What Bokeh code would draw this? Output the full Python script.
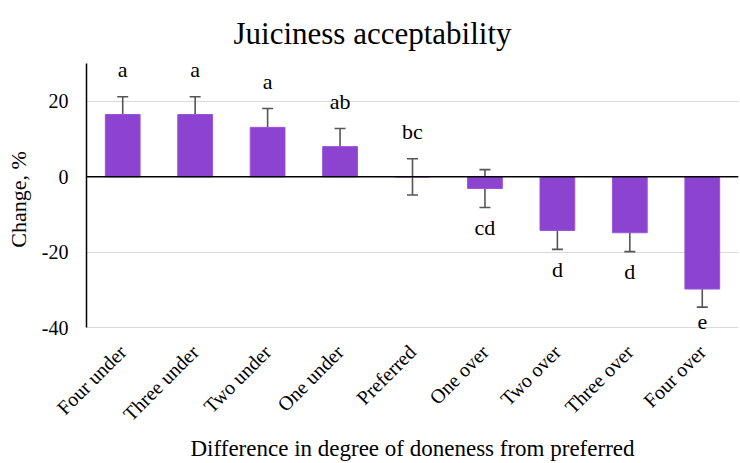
import math
from bokeh.plotting import figure
from bokeh.models import (ColumnDataSource, Whisker, Span, FixedTicker, Range1d, FactorRange,
                          TeeHead, LabelSet, PrintfTickFormatter)
from bokeh.embed import file_html
from bokeh.resources import INLINE

categories = ["Four under", "Three under", "Two under", "One under", "Preferred",
              "One over", "Two over", "Three over", "Four over"]
change = [16.5, 16.5, 13.1, 8.0, 0.0, -3.1, -14.2, -14.8, -29.7]
error = [4.7, 4.7, 5.0, 4.8, 4.8, 5.0, 5.0, 5.0, 4.8]
letters = ["a", "a", "a", "ab", "bc", "cd", "d", "d", "e"]
y_ticks = [-40, -20, 0, 20]

FONT = "Liberation Serif"

upper = [c + e for c, e in zip(change, error)]
lower = [c - e for c, e in zip(change, error)]

src = ColumnDataSource(dict(cat=categories, change=change, upper=upper, lower=lower))

pos_idx = [i for i, c in enumerate(change) if c >= 0]
neg_idx = [i for i, c in enumerate(change) if c < 0]
pos_src = ColumnDataSource(dict(cat=[categories[i] for i in pos_idx],
                                y=[upper[i] + 5.2 for i in pos_idx],
                                t=[letters[i] for i in pos_idx]))
neg_src = ColumnDataSource(dict(cat=[categories[i] for i in neg_idx],
                                y=[lower[i] - 2.0 for i in neg_idx],
                                t=[letters[i] for i in neg_idx]))

p = figure(width=740, height=463, x_range=FactorRange(*categories, range_padding=0),
           y_range=Range1d(-42, 30), output_backend="svg", toolbar_location=None,
           min_border_left=86, min_border_right=2, min_border_top=63, min_border_bottom=126)

p.title.text = "Juiciness acceptability"
p.title.align = "left"
p.title.offset = 147
p.title.vertical_align = "top"
p.title.text_font = FONT
p.title.text_font_size = "31px"
p.title.text_font_style = "normal"
p.title.text_color = "black"
p.title.standoff = 22

p.vbar(x="cat", top="change", bottom=0, width=0.48, source=src,
       fill_color="#8C43D0", line_color="#9A55DA", line_width=1)

w = Whisker(base="cat", upper="upper", lower="lower", source=src,
            line_color="#555555", line_width=1.6,
            upper_head=TeeHead(size=11, line_color="#555555", line_width=1.6),
            lower_head=TeeHead(size=11, line_color="#555555", line_width=1.6))
p.add_layout(w)

p.add_layout(Span(location=0, dimension="width", line_color="black", line_width=1.5))

p.add_layout(LabelSet(x="cat", y="y", text="t", source=pos_src, text_font=FONT,
                      text_font_size="22px", text_align="center", text_baseline="alphabetic",
                      text_color="black"))
p.add_layout(LabelSet(x="cat", y="y", text="t", source=neg_src, text_font=FONT,
                      text_font_size="22px", text_align="center", text_baseline="top",
                      text_color="black"))

p.outline_line_color = None
p.xgrid.grid_line_color = None
p.ygrid.grid_line_color = "#d9d9d9"
p.ygrid.grid_line_width = 1
p.ygrid.ticker = FixedTicker(ticks=y_ticks)

p.yaxis.ticker = FixedTicker(ticks=y_ticks)
p.yaxis.bounds = (-40, 30)
p.yaxis.formatter = PrintfTickFormatter(format="%d")
p.yaxis.axis_line_color = "black"
p.yaxis.axis_line_width = 1.5
p.yaxis.major_tick_line_color = None
p.yaxis.minor_tick_line_color = None
p.yaxis.major_label_text_font = FONT
p.yaxis.major_label_text_font_size = "20px"
p.yaxis.major_label_text_color = "black"
p.yaxis.major_label_standoff = 12
p.yaxis.axis_label = "Change, %"
p.yaxis.axis_label_text_font = FONT
p.yaxis.axis_label_text_font_size = "22px"
p.yaxis.axis_label_text_font_style = "normal"
p.yaxis.axis_label_text_color = "black"
p.yaxis.axis_label_standoff = 8

p.xaxis.axis_line_color = None
p.xaxis.major_tick_line_color = None
p.xaxis.minor_tick_line_color = None
p.xaxis.major_label_orientation = math.pi / 4
p.xaxis.major_label_text_font = FONT
p.xaxis.major_label_text_font_size = "20px"
p.xaxis.major_label_text_color = "black"
p.xaxis.major_label_standoff = 7
p.xaxis.axis_label = "Difference in degree of doneness from preferred"
p.xaxis.axis_label_text_font = FONT
p.xaxis.axis_label_text_font_size = "23px"
p.xaxis.axis_label_text_font_style = "normal"
p.xaxis.axis_label_text_color = "black"
p.xaxis.axis_label_standoff = 0

open("out.html", "w").write(file_html(p, INLINE))
